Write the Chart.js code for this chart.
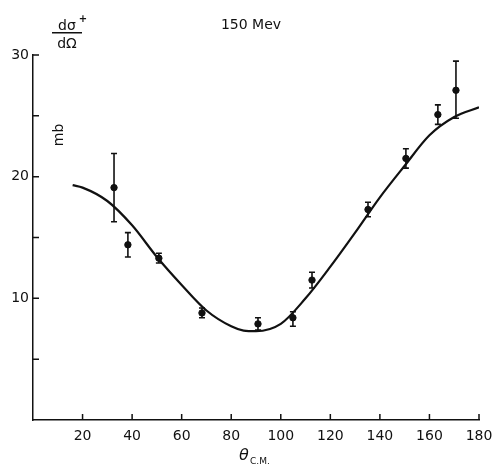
<!DOCTYPE html>
<html>
<head>
<meta charset="utf-8">
<script src="https://cdn.jsdelivr.net/npm/chart.js@4/dist/chart.umd.min.js"></script>
<style>
  html, body { margin: 0; padding: 0; background: #fff; }
  #wrap { width: 494px; height: 465px; position: relative; }
</style>
</head>
<body>
<div id="wrap"><canvas id="xsecChart"></canvas></div>
<script>
// measured points (theta c.m., d sigma / d omega in mb)
const angles   = [32.7, 38.3, 50.8, 68.2, 90.8, 104.9, 112.6, 135.2, 150.5, 163.4, 170.7];
const xsec     = [19.1, 14.4, 13.3,  8.8,  7.9,   8.4,  11.5,  17.3,  21.5,  25.1,  27.1];
const errUp    = [ 2.8,  1.0,  0.4,  0.4,  0.5,   0.5,   0.65,  0.6,   0.8,   0.8,   2.4];
const errDown  = [ 2.8,  1.0,  0.4,  0.4,  0.5,   0.7,   0.65,  0.6,   0.8,   0.8,   2.3];

// smooth theoretical curve
const curveX = [16, 20, 30, 40, 50, 60, 70, 80, 85, 90, 100, 110, 120, 130, 140, 150, 160, 170, 180];
const curveY = [19.3, 19.1, 18.0, 16.0, 13.4, 11.1, 9.0, 7.7, 7.35, 7.3, 7.9, 10.0, 12.6, 15.4, 18.3, 20.9, 23.4, 24.9, 25.7];

const xTicks = [20, 40, 60, 80, 100, 120, 140, 160, 180];
const yLabels = [10, 20, 30];

const FONT = "'DejaVu Sans', sans-serif";

// error bars from the data arrays
const errorBars = {
    id: 'errorBars',
    afterDatasetsDraw(chart) {
        const ctx = chart.ctx;
        const xs = chart.scales.x, ys = chart.scales.y;
        ctx.save();
        ctx.strokeStyle = '#111';
        ctx.lineWidth = 1.6;
        angles.forEach((a, i) => {
            const px = xs.getPixelForValue(a);
            const top = ys.getPixelForValue(xsec[i] + errUp[i]);
            const bot = ys.getPixelForValue(xsec[i] - errDown[i]);
            ctx.beginPath();
            ctx.moveTo(px, top); ctx.lineTo(px, bot);
            ctx.moveTo(px - 3, top); ctx.lineTo(px + 3, top);
            ctx.moveTo(px - 3, bot); ctx.lineTo(px + 3, bot);
            ctx.stroke();
        });
        ctx.restore();
    }
};

// inward tick marks and the hand lettered labels
const decorations = {
    id: 'decorations',
    afterDraw(chart) {
        const ctx = chart.ctx;
        const xs = chart.scales.x, ys = chart.scales.y;
        const area = chart.chartArea;
        ctx.save();
        ctx.strokeStyle = '#111';
        ctx.lineWidth = 1.5;
        ctx.beginPath();
        xTicks.forEach(v => {
            const px = xs.getPixelForValue(v);
            ctx.moveTo(px, area.bottom); ctx.lineTo(px, area.bottom - 6);
        });
        for (let v = 5; v <= 30; v += 5) {
            const py = ys.getPixelForValue(v);
            ctx.moveTo(area.left, py); ctx.lineTo(area.left + 6, py);
        }
        ctx.stroke();

        ctx.fillStyle = '#111';
        ctx.textBaseline = 'alphabetic';
        ctx.textAlign = 'center';
        ctx.font = '14px ' + FONT;
        ctx.fillText('150 Mev', 251, 29);

        // d sigma+ / d Omega
        ctx.font = '14px ' + FONT;
        ctx.fillText('dσ', 67, 30);
        ctx.font = 'bold 10px ' + FONT;
        ctx.fillText('+', 83, 22);
        ctx.fillRect(52, 32, 30, 1.5);
        ctx.font = '14px ' + FONT;
        ctx.fillText('dΩ', 67, 48);

        // units
        ctx.save();
        ctx.translate(63, 135);
        ctx.rotate(-Math.PI / 2);
        ctx.font = '14px ' + FONT;
        ctx.fillText('mb', 0, 0);
        ctx.restore();

        // x axis title
        ctx.textAlign = 'left';
        ctx.font = 'italic 16px ' + FONT;
        ctx.fillText('θ', 239, 460);
        ctx.font = '9px ' + FONT;
        ctx.fillText('C.M.', 250, 464);
        ctx.restore();
    }
};

const ctx = document.getElementById('xsecChart').getContext('2d');
new Chart(ctx, {
    type: 'scatter',
    data: {
        datasets: [{
            label: 'data',
            data: angles.map((a, i) => ({ x: a, y: xsec[i] })),
            backgroundColor: '#111',
            borderColor: '#111',
            pointRadius: 3.2,
            pointHoverRadius: 3.2
        }, {
            type: 'line',
            label: 'theory',
            data: curveX.map((a, i) => ({ x: a, y: curveY[i] })),
            borderColor: '#111',
            borderWidth: 2.2,
            pointRadius: 0,
            fill: false,
            cubicInterpolationMode: 'monotone'
        }]
    },
    options: {
        responsive: true,
        maintainAspectRatio: false,
        animation: false,
        layout: { padding: { top: 55, right: 15, left: 0, bottom: 0 } },
        plugins: {
            legend: { display: false },
            tooltip: { enabled: false }
        },
        scales: {
            x: {
                type: 'linear',
                min: 0,
                max: 180,
                grid: { drawOnChartArea: false, drawTicks: false },
                border: { display: true, color: '#111', width: 1.5 },
                ticks: {
                    stepSize: 20,
                    padding: 8,
                    color: '#111',
                    font: { family: FONT, size: 14 },
                    maxRotation: 0,
                    callback: v => (xTicks.includes(v) ? String(v) : '')
                },
                afterFit(scale) {
                    scale.height = 45;
                    scale.paddingLeft = 0;
                    scale.paddingRight = 0;
                }
            },
            y: {
                type: 'linear',
                min: 0,
                max: 30,
                grid: { drawOnChartArea: false, drawTicks: false },
                border: { display: true, color: '#111', width: 1.5 },
                ticks: {
                    stepSize: 5,
                    padding: 4,
                    color: '#111',
                    font: { family: FONT, size: 14 },
                    callback: v => (yLabels.includes(v) ? String(v) : '')
                },
                afterFit(scale) {
                    scale.width = 33;
                    scale.paddingTop = 0;
                    scale.paddingBottom = 0;
                }
            }
        }
    },
    plugins: [errorBars, decorations]
});
</script>
</body>
</html>
